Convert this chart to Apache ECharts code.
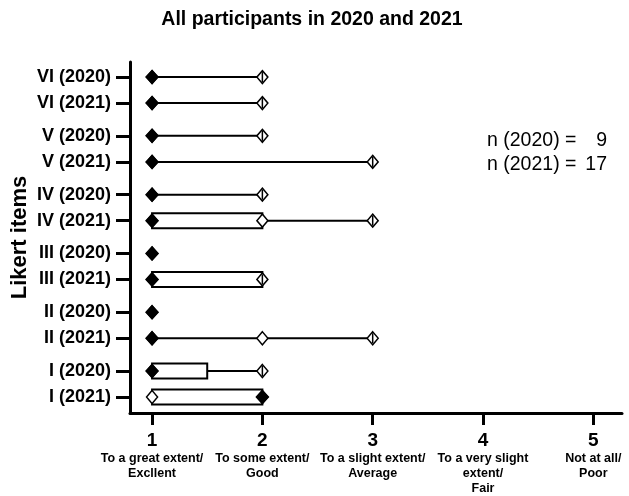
<!DOCTYPE html>
<html>
<head>
<meta charset="utf-8">
<script src="https://cdn.jsdelivr.net/npm/echarts@6/dist/echarts.min.js"></script>
<style>
html, body { margin: 0; padding: 0; background: #fff; }
#chart { width: 629px; height: 496px; }
</style>
</head>
<body>
<div id="chart"></div>
<script>
// rows listed bottom to top
const rowLabels = ['I (2021)', 'I (2020)', 'II (2021)', 'II (2020)', 'III (2021)', 'III (2020)',
	'IV (2021)', 'IV (2020)', 'V (2021)', 'V (2020)', 'VI (2021)', 'VI (2020)']
const minVals = [1, 1, 1, 1, 1, 1, 1, 1, 1, 1, 1, 1]
const q1Vals = [1, 1, 1, 1, 1, 1, 1, 1, 1, 1, 1, 1]
const medVals = [2, 1, 1, 1, 1, 1, 1, 1, 1, 1, 1, 1]
const q3Vals = [2, 1.5, 1, 1, 2, 1, 2, 1, 1, 1, 1, 1]
const maxVals = [2, 2, 3, 1, 2, 1, 3, 2, 3, 2, 2, 2]
// distinct answers given (open diamonds)
const pointVals = [[1, 2], [1, 2], [1, 2, 3], [1], [1, 2], [1], [1, 2, 3], [1, 2], [1, 3], [1, 2], [1, 2], [1, 2]]

const xTicks = [1, 2, 3, 4, 5]
const xTickNames = [
	['To a great extent/', 'Excllent'],
	['To some extent/', 'Good'],
	['To a slight extent/', 'Average'],
	['To a very slight', 'extent/', 'Fair'],
	['Not at all/', 'Poor'],
]
const nLabels = ['n (2020) =', 'n (2021) =']
const nVals = [9, 17]

const FONT = '"Liberation Sans", Arial, Helvetica, sans-serif'
const GROUP_PITCH = 2.26 // 2 rows + gap
const rowPos = rowLabels.map((_, i) => Math.floor(i / 2) * GROUP_PITCH + (i % 2))

const boxData = rowLabels.map((_, i) => [rowPos[i], minVals[i], q1Vals[i], q3Vals[i], maxVals[i]])
const pointData = []
pointVals.forEach((vals, i) => vals.forEach(v => pointData.push([v, rowPos[i]])))
const medData = medVals.map((v, i) => [v, rowPos[i]])

const chart = echarts.init(document.getElementById('chart'))

chart.setOption({
	animation: false,
	backgroundColor: '#fff',
	textStyle: { fontFamily: FONT },
	title: {
		text: 'All participants in 2020 and 2021',
		left: 307,
		textAlign: 'center',
		top: 5,
		textStyle: { fontSize: 19.5, fontWeight: 'bold', color: '#000', fontFamily: FONT },
	},
	grid: { left: 130, right: 7, top: 62, bottom: 83, containLabel: false, outerBoundsMode: 'none' },
	xAxis: {
		type: 'value',
		min: 0.8,
		max: 5.26,
		splitLine: { show: false },
		axisLine: { onZero: false, lineStyle: { color: '#000', width: 3 } },
		axisTick: { customValues: xTicks, length: 12, lineStyle: { color: '#000', width: 3 } },
		axisLabel: {
			customValues: xTicks,
			margin: 17,
			color: '#000',
			formatter: v => {
				const i = xTicks.indexOf(v)
				if (i < 0) return ''
				return '{n|' + v + '}\n' + xTickNames[i].map(s => '{d|' + s + '}').join('\n')
			},
			rich: {
				n: { fontSize: 19, fontWeight: 'bold', lineHeight: 21, color: '#000', fontFamily: FONT },
				d: { fontSize: 12.5, fontWeight: 'bold', lineHeight: 15, color: '#000', fontFamily: FONT },
			},
		},
	},
	yAxis: {
		type: 'value',
		min: -0.615,
		max: 12.88,
		name: 'Likert items',
		nameLocation: 'middle',
		nameGap: 99,
		nameMoveOverlap: false,
		nameTextStyle: { fontSize: 22, fontWeight: 'bold', color: '#000', fontFamily: FONT },
		splitLine: { show: false },
		axisLine: { onZero: false, lineStyle: { color: '#000', width: 3 } },
		axisTick: { customValues: rowPos, length: 14, lineStyle: { color: '#000', width: 3 } },
		axisLabel: {
			customValues: rowPos,
			margin: 19,
			fontSize: 18,
			fontWeight: 'bold',
			color: '#000',
			fontFamily: FONT,
			formatter: v => {
				const i = rowPos.findIndex(p => Math.abs(p - v) < 1e-6)
				return i < 0 ? '' : rowLabels[i]
			},
		},
	},
	graphic: nLabels.flatMap((t, i) => [
		{
			type: 'text',
			left: 487,
			top: 131 + i * 24,
			style: { text: t, fontSize: 19.5, fill: '#000', fontFamily: FONT },
		},
		{
			type: 'text',
			right: 22,
			top: 131 + i * 24,
			style: { text: String(nVals[i]), fontSize: 19.5, fill: '#000', fontFamily: FONT, align: 'right' },
		},
	]),
	series: [
		{
			// whiskers + box
			type: 'custom',
			z: 1,
			data: boxData,
			encode: { x: [1, 2, 3, 4], y: 0 },
			renderItem: (params, api) => {
				const pos = api.value(0)
				const lo = api.coord([api.value(1), pos])
				const q1 = api.coord([api.value(2), pos])
				const q3 = api.coord([api.value(3), pos])
				const hi = api.coord([api.value(4), pos])
				const children = []
				if (hi[0] > lo[0]) {
					children.push({
						type: 'line',
						shape: { x1: lo[0], y1: lo[1], x2: hi[0], y2: hi[1] },
						style: { stroke: '#000', lineWidth: 2 },
					})
				}
				if (q3[0] > q1[0]) {
					children.push({
						type: 'rect',
						shape: { x: q1[0], y: q1[1] - 7.5, width: q3[0] - q1[0], height: 15 },
						style: { fill: '#fff', stroke: '#000', lineWidth: 2 },
					})
				}
				return { type: 'group', children }
			},
		},
		{
			// distinct answers
			type: 'scatter',
			z: 2,
			data: pointData,
			symbol: 'diamond',
			symbolSize: [11, 13],
			itemStyle: { color: '#fff', borderColor: '#000', borderWidth: 1.5, opacity: 1 },
		},
		{
			// whisker caps
			type: 'custom',
			z: 3,
			data: boxData,
			encode: { x: [1, 4], y: 0 },
			renderItem: (params, api) => {
				const pos = api.value(0)
				const lo = api.coord([api.value(1), pos])
				const hi = api.coord([api.value(4), pos])
				if (!(hi[0] > lo[0])) return { type: 'group', children: [] }
				return {
					type: 'line',
					shape: { x1: hi[0], y1: hi[1] - 5, x2: hi[0], y2: hi[1] + 5 },
					style: { stroke: '#000', lineWidth: 1.5 },
				}
			},
		},
		{
			// medians
			type: 'scatter',
			z: 4,
			data: medData,
			symbol: 'diamond',
			symbolSize: [14, 15],
			itemStyle: { color: '#000', opacity: 1 },
		},
	],
})
</script>
</body>
</html>
